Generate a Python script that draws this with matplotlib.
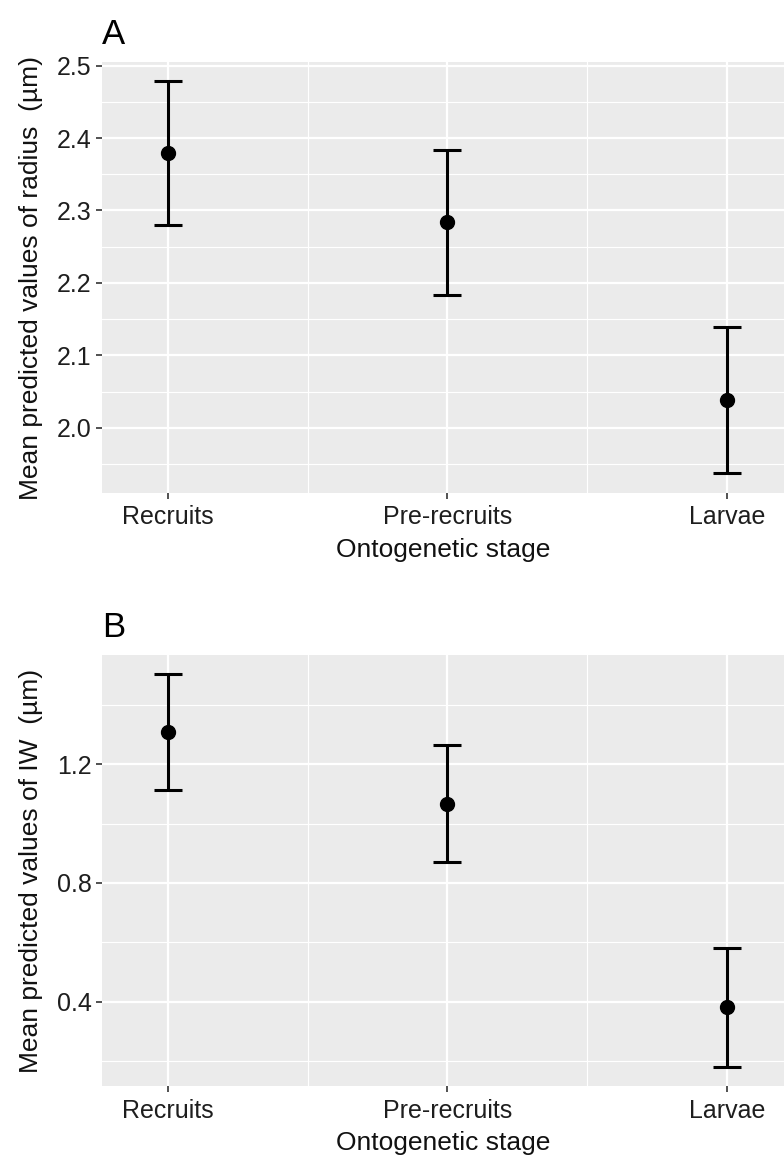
import matplotlib
matplotlib.use("Agg")
import matplotlib.pyplot as plt
from matplotlib.ticker import FixedLocator

plt.rcParams['font.family'] = ['Liberation Sans', 'DejaVu Sans']

stages = ["Recruits", "Pre-recruits", "Larvae"]

# Panel A: radius
radius_mean = [2.379, 2.284, 2.038]
radius_low = [2.280, 2.183, 1.937]
radius_high = [2.479, 2.384, 2.139]

# Panel B: IW
iw_mean = [1.308, 1.065, 0.383]
iw_low = [1.112, 0.870, 0.182]
iw_high = [1.503, 1.264, 0.581]

W, H = 784, 1155
fig = plt.figure(figsize=(W / 100, H / 100), dpi=100)

def px_axes(left, top, right, bottom):
    return fig.add_axes([left / W, 1 - bottom / H, (right - left) / W, (bottom - top) / H])

def draw_panel(ax, means, lows, highs, ylim, major, minor, ylabel, tag):
    x = list(range(len(stages)))
    ax.set_facecolor('#EBEBEB')
    for s in ax.spines.values():
        s.set_visible(False)
    ax.set_xlim(-0.236, 2.204)
    ax.set_ylim(*ylim)
    ax.yaxis.set_major_locator(FixedLocator(major))
    ax.yaxis.set_minor_locator(FixedLocator(minor))
    ax.xaxis.set_major_locator(FixedLocator(x))
    ax.xaxis.set_minor_locator(FixedLocator([0.5, 1.5]))
    ax.set_xticklabels(stages)
    ax.grid(which='major', color='white', linewidth=1.6)
    ax.grid(which='minor', color='white', linewidth=0.8)
    ax.set_axisbelow(True)
    ax.tick_params(which='major', length=4.5, width=1.2, color='#333333',
                   labelsize=18, labelcolor='#1e1e1e', pad=3)
    ax.tick_params(axis='x', which='major', pad=4.5)
    ax.tick_params(which='minor', length=0)
    lower = [m - l for m, l in zip(means, lows)]
    upper = [h - m for m, h in zip(means, highs)]
    ax.errorbar(x, means, yerr=[lower, upper], fmt='none', ecolor='black',
                elinewidth=2.2, capsize=10, capthick=2.2, zorder=3)
    ax.plot(x, means, 'o', color='black', markersize=10, zorder=4)
    ax.set_xlabel("Ontogenetic stage", fontsize=19, color='#111111', labelpad=6)
    ax.set_ylabel(ylabel, fontsize=19, color='#111111', labelpad=10)
    ax.text(0.0, 1.025, tag, transform=ax.transAxes, fontsize=25,
            ha='left', va='bottom', color='black')

axA = px_axes(102, 62, 784, 493)
draw_panel(axA, radius_mean, radius_low, radius_high, (1.910, 2.505),
           [2.0, 2.1, 2.2, 2.3, 2.4, 2.5],
           [1.95, 2.05, 2.15, 2.25, 2.35, 2.45],
           "Mean predicted values of radius  (\u00b5m)", "A")

axB = px_axes(102, 655, 784, 1086)
draw_panel(axB, iw_mean, iw_low, iw_high, (0.117, 1.567),
           [0.4, 0.8, 1.2],
           [0.2, 0.6, 1.0, 1.4],
           "Mean predicted values of IW  (\u00b5m)", "B")

fig.savefig("out.png", dpi=100)
